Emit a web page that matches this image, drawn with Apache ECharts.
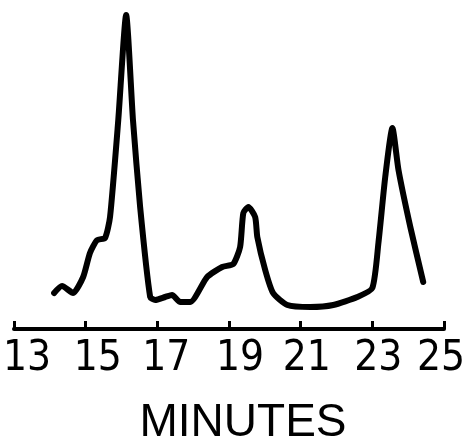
<!DOCTYPE html>
<html>
<head>
<meta charset="utf-8">
<script src="https://cdn.jsdelivr.net/npm/echarts@6/dist/echarts.min.js"></script>
<style>html,body{margin:0;padding:0;background:#fff;}#c{width:471px;height:442px;}</style>
</head>
<body>
<div id="c"></div>
<script>
// Retention time (minutes) and detector response (arbitrary units)
const minutes = [14.12,14.34,14.65,14.93,15.12,15.32,15.54,15.68,15.91,16.13,16.32,16.52,16.80,16.94,17.22,17.41,17.64,17.92,18.39,18.81,19.12,19.31,19.40,19.54,19.73,19.79,20.01,20.23,20.63,21.27,21.91,22.58,23.00,23.17,23.36,23.56,23.73,24.06,24.42];
const response = [36,43,36,52,76,89,91,112,209,314,209,122,32,29,32,34,27,27,52,62,65,82,116,122,112,92,59,36,24,22,24,32,41,86,152,201,159,102,47];
const tickLabels = ['13','15','17','19','21','23','25'];
const axisStart = 13;

// hand-lettered labels sit slightly off their ticks in the original
const labelShift = [13, 12, 9, 11, 6, 6, -3];
const labelFont = '"Liberation Sans Narrow", "DejaVu Sans Condensed", "Liberation Sans", sans-serif';
const rich = {};
labelShift.forEach((s, i) => {
  rich['r' + i] = {
    fontSize: 42, color: '#000', fontFamily: labelFont,
    padding: s >= 0 ? [0, 0, 0, 2 * s] : [0, -2 * s, 0, 0]
  };
});

const chart = echarts.init(document.getElementById('c'));
chart.setOption({
  animation: false,
  grid: {left: 14, right: 27, top: 0, bottom: 113, containLabel: false, outerBoundsMode: 'none'},
  xAxis: {
    type: 'value', min: 0, max: 12, interval: 2,
    axisLine: {show: true, lineStyle: {color: '#000', width: 4}},
    axisTick: {show: true, inside: true, length: 8, lineStyle: {color: '#000', width: 3}},
    splitLine: {show: false},
    axisLabel: {
      margin: 9, color: '#000', fontSize: 42, fontFamily: labelFont,
      formatter: v => { const i = Math.round(v / 2); return '{r' + i + '|' + tickLabels[i] + '}'; },
      rich: rich
    },
    name: 'MINUTES', nameLocation: 'middle', nameGap: 71,
    nameTextStyle: {color: '#000', fontSize: 46, fontFamily: '"Liberation Sans", sans-serif', padding: [0, 0, 0, 28]}
  },
  yAxis: {type: 'value', min: 0, max: 329, show: false},
  series: [{
    type: 'line',
    data: minutes.map((m, i) => [m - axisStart, response[i]]),
    showSymbol: false, smooth: 0.2,
    lineStyle: {color: '#000', width: 6, join: 'round', cap: 'round'}
  }]
});
</script>
</body>
</html>
